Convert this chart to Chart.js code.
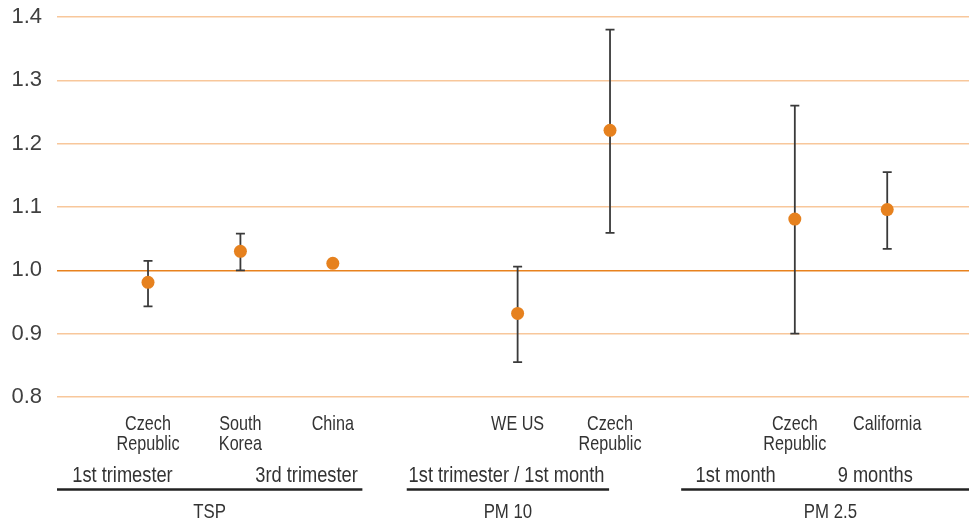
<!DOCTYPE html>
<html>
<head>
<meta charset="utf-8">
<script src="https://cdn.jsdelivr.net/npm/chart.js@4/dist/chart.umd.min.js"></script>
<style>
  html, body { margin: 0; padding: 0; background: #ffffff; }
  #wrap { width: 969px; height: 525px; position: relative; }
</style>
</head>
<body>
<div id="wrap"><canvas id="chart"></canvas></div>
<script>
// Study locations, one slot each; empty slots separate the pollutant groups.
const categories = [
  ['Czech', 'Republic'], ['South', 'Korea'], ['China'], [],
  ['WE US'], ['Czech', 'Republic'], [],
  ['Czech', 'Republic'], ['California']
];
// Odds ratio estimates with their lower / upper confidence limits.
const estimate = [0.981, 1.030, 1.011, null, 0.932, 1.221, null, 1.081, 1.096];
const lower    = [0.943, 1.000, null,  null, 0.855, 1.059, null, 0.900, 1.034];
const upper    = [1.015, 1.058, null,  null, 1.006, 1.380, null, 1.260, 1.155];
const yTicks   = [0.8, 0.9, 1.0, 1.1, 1.2, 1.3, 1.4];

// Exposure windows written under the locations (slot coordinate, alignment).
const windowLabels = [
  { text: '1st trimester', at: -0.82, align: 'left' },
  { text: '3rd trimester', at: 2.27, align: 'right' },
  { text: '1st trimester / 1st month', at: 3.88, align: 'center' },
  { text: '1st month', at: 6.36, align: 'center' },
  { text: '9 months', at: 7.87, align: 'center' }
];
// Pollutant groups with the slot range their underline covers.
const groups = [
  { text: 'TSP', from: -0.985, to: 2.32 },
  { text: 'PM 10', from: 2.80, to: 4.99 },
  { text: 'PM 2.5', from: 5.77, to: 9.0 }
];

const FONT = '"Liberation Sans", Arial, sans-serif';
const TEXT = '#333333';

function squeezedText(ctx, text, x, y, align, size, sx) {
  ctx.save();
  ctx.translate(x, y);
  ctx.scale(sx, 1);
  ctx.font = size + 'px ' + FONT;
  ctx.fillStyle = TEXT;
  ctx.textAlign = align;
  ctx.textBaseline = 'alphabetic';
  ctx.fillText(text, 0, 0);
  ctx.restore();
}

const points = estimate.map((v, i) => ({ x: i, y: v }));

// Confidence interval whiskers, drawn underneath the markers.
const whiskers = {
  id: 'whiskers',
  beforeDatasetsDraw(chart) {
    const { ctx, scales: { x, y } } = chart;
    ctx.save();
    ctx.strokeStyle = '#3a3a3a';
    ctx.lineWidth = 1.8;
    const cap = 4.5;
    for (let i = 0; i < estimate.length; i++) {
      if (lower[i] == null || upper[i] == null) continue;
      const px = x.getPixelForValue(i);
      const y0 = y.getPixelForValue(lower[i]);
      const y1 = y.getPixelForValue(upper[i]);
      ctx.beginPath();
      ctx.moveTo(px, y0); ctx.lineTo(px, y1);
      ctx.moveTo(px - cap, y0); ctx.lineTo(px + cap, y0);
      ctx.moveTo(px - cap, y1); ctx.lineTo(px + cap, y1);
      ctx.stroke();
    }
    ctx.restore();
  }
};

// Location names, exposure windows and the pollutant brackets below the plot.
const bottomLabels = {
  id: 'bottomLabels',
  afterDraw(chart) {
    const { ctx, scales: { x } } = chart;
    categories.forEach((lines, i) => {
      const px = x.getPixelForValue(i);
      lines.forEach((t, k) => squeezedText(ctx, t, px, 430 + k * 20, 'center', 21, 0.77));
    });
    windowLabels.forEach(w => {
      squeezedText(ctx, w.text, x.getPixelForValue(w.at), 481.5, w.align, 22, 0.83);
    });
    ctx.save();
    ctx.strokeStyle = '#222222';
    ctx.lineWidth = 2.5;
    groups.forEach(g => {
      const a = x.getPixelForValue(g.from);
      const b = x.getPixelForValue(g.to);
      ctx.beginPath();
      ctx.moveTo(a, 489.5); ctx.lineTo(b, 489.5);
      ctx.stroke();
    });
    ctx.restore();
    groups.forEach(g => {
      const mid = (x.getPixelForValue(g.from) + x.getPixelForValue(g.to)) / 2;
      squeezedText(ctx, g.text, mid, 518, 'center', 21, 0.8);
    });
  }
};

new Chart(document.getElementById('chart'), {
  type: 'scatter',
  data: {
    datasets: [{
      data: points,
      backgroundColor: '#e6811e',
      borderColor: '#e6811e',
      pointRadius: 6.5,
      pointHoverRadius: 6.5,
      borderWidth: 0
    }]
  },
  options: {
    responsive: true,
    maintainAspectRatio: false,
    animation: false,
    devicePixelRatio: 1,
    layout: { autoPadding: false, padding: { top: 17, right: 0, bottom: 128, left: 0 } },
    plugins: { legend: { display: false }, tooltip: { enabled: false } },
    scales: {
      x: {
        type: 'linear',
        display: false,
        min: -0.985,
        max: 8.885
      },
      y: {
        type: 'linear',
        min: 0.8,
        max: 1.4,
        afterFit(scale) {
          scale.width = 57;
          scale.paddingTop = 0;
          scale.paddingBottom = 0;
        },
        afterBuildTicks(scale) { scale.ticks = yTicks.map(v => ({ value: v })); },
        border: { display: false },
        grid: {
          drawTicks: false,
          lineWidth: 1.6,
          color: ctx => (ctx.tick && Math.abs(ctx.tick.value - 1.0) < 1e-9) ? '#e8821e' : '#f8c79b'
        },
        ticks: {
          padding: 15,
          color: '#404040',
          font: { family: FONT, size: 22 },
          callback: v => Number(v).toFixed(1)
        }
      }
    }
  },
  plugins: [whiskers, bottomLabels]
});
</script>
</body>
</html>
